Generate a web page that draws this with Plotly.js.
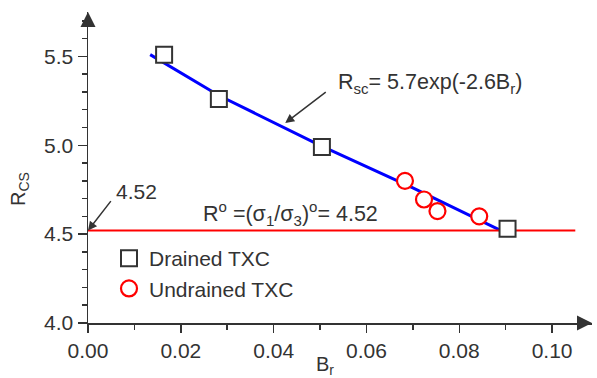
<!DOCTYPE html>
<html><head><meta charset="utf-8">
<script src="https://cdn.plot.ly/plotly-3.0.1.min.js"></script>
<style>html,body{margin:0;padding:0;background:#fff}#chart{width:597px;height:378px}</style>
</head><body><div id="chart"></div>
<script>
// Fit line R_sc = 5.7exp(-2.6 B_r)
var fitX = [0.0134, 0.0282, 0.05, 0.07, 0.089];
var fitY = [5.51, 5.28, 5.0, 4.76, 4.52];
// Horizontal line R° = 4.52
var refX = [0, 0.105];
var refY = [4.52, 4.52];
// Drained TXC
var drainedX = [0.0164, 0.0282, 0.0504, 0.0904];
var drainedY = [5.51, 5.26, 4.99, 4.53];
// Undrained TXC
var undrainedX = [0.0683, 0.0724, 0.0753, 0.0843];
var undrainedY = [4.80, 4.695, 4.63, 4.60];
var xTicks = [0, 0.02, 0.04, 0.06, 0.08, 0.10];
var yTicks = [4.0, 4.5, 5.0, 5.5];

var FONT = 'Liberation Sans, Arial, sans-serif';
var TXT = '#333';
var FS = 21;

var traces = [
  {x: fitX, y: fitY, mode: 'lines', line: {color: '#0000ff', width: 3}, showlegend: false, hoverinfo: 'skip'},
  {x: refX, y: refY, mode: 'lines', line: {color: '#ff0000', width: 2}, showlegend: false, hoverinfo: 'skip'},
  {x: drainedX, y: drainedY, mode: 'markers', name: 'Drained TXC',
   marker: {symbol: 'square', size: 16, color: '#fff', line: {color: '#333', width: 2}}},
  {x: undrainedX, y: undrainedY, mode: 'markers', name: 'Undrained TXC',
   marker: {symbol: 'circle', size: 16, color: '#fff', line: {color: '#ff0000', width: 2.2}}}
];

// pixel -> paper coordinates of the plot area
function px(xp, yp) {
  return {x: (xp - 88) / (597 - 88 - 5), y: (323 - yp) / (378 - 12 - 55)};
}
function textAt(xp, yp, text, size, angle) {
  var p = px(xp, yp);
  return {x: p.x, y: p.y, xref: 'paper', yref: 'paper', xanchor: 'center', yanchor: 'middle',
          text: text, showarrow: false, textangle: angle || 0, font: {size: size, color: TXT, family: FONT}};
}

var lg = px(109, 238);
var layout = {
  width: 597, height: 378,
  margin: {l: 88, r: 5, t: 12, b: 55},
  paper_bgcolor: '#fff', plot_bgcolor: '#fff',
  font: {family: FONT, color: TXT, size: FS},
  showlegend: true,
  legend: {x: lg.x, y: lg.y, xanchor: 'left', yanchor: 'top', bgcolor: 'rgba(0,0,0,0)',
           font: {size: FS, color: TXT}, tracegroupgap: 0, itemwidth: 30},
  xaxis: {range: [0, 0.1086], showgrid: false, zeroline: false, showline: true,
          linecolor: '#333', linewidth: 1.5, ticks: 'outside', ticklen: 8, tickwidth: 1.5,
          tickcolor: '#333', tickvals: xTicks, tickformat: '.2f',
          tickfont: {size: FS, color: TXT, family: FONT},
          minor: {dtick: 0.01, tick0: 0, ticks: 'outside', ticklen: 5, tickwidth: 1.5, tickcolor: '#333'}},
  yaxis: {range: [4.0, 5.75], showgrid: false, zeroline: false, showline: true,
          linecolor: '#333', linewidth: 1.5, ticks: 'outside', ticklen: 9, tickwidth: 1.5,
          tickcolor: '#333', tickvals: yTicks, tickformat: '.1f',
          tickfont: {size: FS, color: TXT, family: FONT},
          minor: {dtick: 0.1, tick0: 4.0, ticks: 'outside', ticklen: 5, tickwidth: 1.5, tickcolor: '#333'}},
  annotations: [
    // axis arrowheads
    {x: 0.1086, y: 4.0, xref: 'x', yref: 'y', ax: -16, ay: 0, text: '', showarrow: true,
     arrowhead: 2, arrowsize: 2, arrowwidth: 1.5, arrowcolor: '#333'},
    {x: 0, y: 5.75, xref: 'x', yref: 'y', ax: 0, ay: 16, text: '', showarrow: true,
     arrowhead: 2, arrowsize: 2, arrowwidth: 1.5, arrowcolor: '#333'},
    // equation arrow
    {x: 0.0425, y: 5.125, xref: 'x', yref: 'y', ax: 42, ay: -32, text: '', showarrow: true,
     arrowhead: 2, arrowsize: 1.2, arrowwidth: 1.5, arrowcolor: '#333'},
    // 4.52 arrow
    {x: 0, y: 4.52, xref: 'x', yref: 'y', ax: 24, ay: -31, text: '', showarrow: true,
     arrowhead: 2, arrowsize: 1.2, arrowwidth: 1.5, arrowcolor: '#333'},
    textAt(325, 365, 'B<sub>r</sub>', 20),
    textAt(19, 189, 'R<sub>CS</sub>', 20, -90),
    textAt(430, 83, 'R<sub>sc</sub>= 5.7exp(-2.6B<sub>r</sub>)', 21.5),
    textAt(136, 191, '4.52', FS),
    textAt(290, 213, 'R<sup>o</sup> =(σ<sub>1</sub>/σ<sub>3</sub>)<sup>o</sup>= 4.52', 21.5)
  ]
};

Plotly.newPlot('chart', traces, layout, {displayModeBar: false, staticPlot: true});
</script></body></html>
